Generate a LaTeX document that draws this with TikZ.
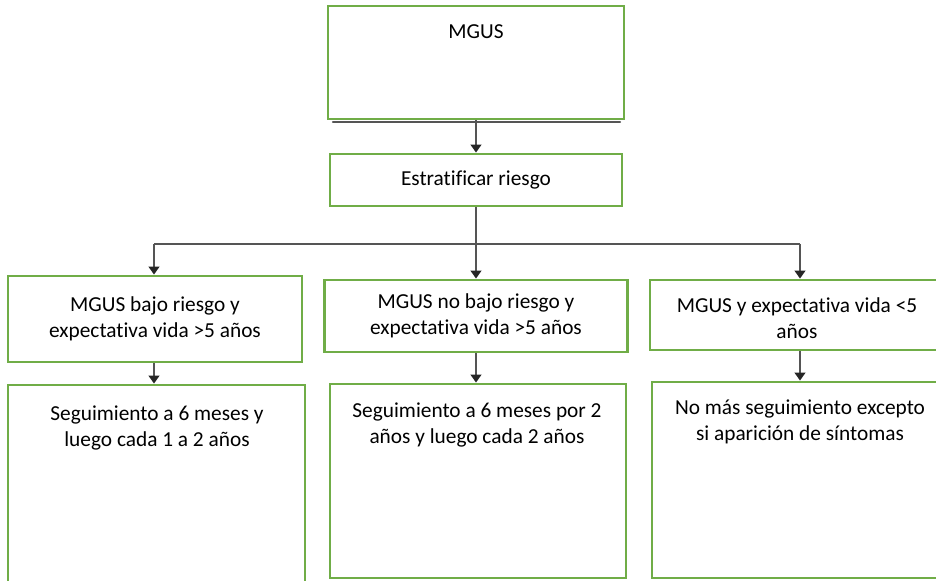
\documentclass[tikz,border=0pt]{standalone}
\usepackage{fontspec}
\setmainfont{Carlito}[Ligatures=NoCommon]
\usetikzlibrary{arrows.meta}
\definecolor{boxgreen}{HTML}{70AD47}
\definecolor{lineg}{HTML}{555555}
\definecolor{tipg}{HTML}{262626}
\begin{document}
\begin{tikzpicture}[x=0.75pt,y=-0.75pt,
  box/.style={draw=boxgreen,line width=2.1pt,fill=white,inner sep=0pt,align=center,
    font=\fontsize{16pt}{19.5pt}\selectfont},
  txt/.style={inner sep=0pt,align=center,font=\fontsize{16pt}{19.5pt}\selectfont},
  conn/.style={draw=lineg,line width=1.6pt},
  arr/.style={conn,-{Triangle[width=8pt,length=6pt,fill=tipg,color=tipg]}}]
\useasboundingbox (0,0) rectangle (936,581);
\clip (0,0) rectangle (936,581);
% boxes
\node[box,minimum width=296*0.75pt,minimum height=113*0.75pt] (mgus) at (476,62.5) {};
\node[txt] (tmgus) at (476,32) {MGUS};
\node[box,minimum width=292*0.75pt,minimum height=52*0.75pt] (strat) at (476,180) {Estratificar riesgo};
\node[box,minimum width=294*0.75pt,minimum height=86*0.75pt] (b1) at (155,319) {MGUS bajo riesgo y\\expectativa vida >5 años};
\node[box,minimum width=303*0.75pt,minimum height=72*0.75pt] (b2) at (476,316) {MGUS no bajo riesgo y\\expectativa vida >5 años};
\node[box,minimum width=310*0.75pt,minimum height=70*0.75pt] (b3) at (805,315) {};
\node[txt] (t3) at (797,318) {MGUS y expectativa vida <5\\años};
\node[box,minimum width=297*0.75pt,minimum height=215*0.75pt] (b4) at (156.5,492.5) {};
\node[txt] (t4) at (157,428) {Seguimiento a 6 meses y\\luego cada 1 a 2 años};
\node[box,minimum width=296*0.75pt,minimum height=194*0.75pt] (b5) at (478,481) {};
\node[txt] (t5) at (477,425) {Seguimiento a 6 meses por 2\\años y luego cada 2 años};
\node[box,minimum width=308*0.75pt,minimum height=196*0.75pt] (b6) at (806,480) {};
\node[txt] (t6) at (800,422) {No más seguimiento excepto\\si aparición de síntomas};
% connectors
\coordinate (busL) at (154,244);
\coordinate (busR) at (800,244);
\coordinate (mL) at (333,122);
\coordinate (mR) at (620,122);
\draw[conn,line cap=round] (mL) -- (mR);
\draw[arr] (mgus.south) -- (strat.north);
\draw[conn] (busL) -- (busR);
\draw[arr] (strat.south) -- (b2.north);
\draw[arr] (busL) -- (busL |- b1.north);
\draw[arr] (busR) -- (busR |- b3.north);
\draw[arr] (b1.south -| busL) -- (b4.north -| busL);
\draw[arr] (b2.south) -- (b2.south |- b5.north);
\draw[arr] (b3.south -| busR) -- (b6.north -| busR);
\end{tikzpicture}
\end{document}
